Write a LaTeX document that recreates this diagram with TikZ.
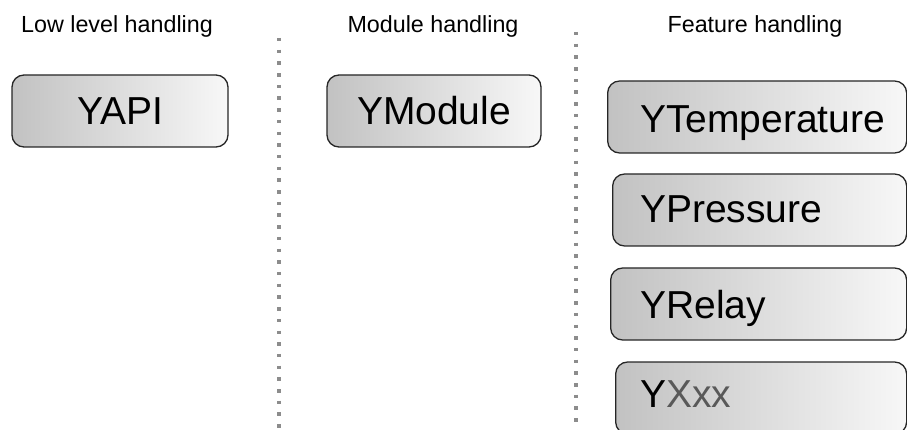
\documentclass[tikz,border=0pt]{standalone}
\usepackage{fontspec}
\setmainfont{Liberation Sans}
\usepackage{tikz}
\usetikzlibrary{positioning}

\begin{document}
\begin{tikzpicture}[
    % styles
    x=1pt, y=-1pt,
    header/.style={font=\fontsize{23.3}{26}\selectfont, inner sep=0pt, anchor=base},
    box/.style={draw=black!85, line width=1.3pt, rounded corners=12pt,
        left color=black!24, right color=black!3,
        minimum height=72pt, inner sep=0pt, font=\fontsize{39}{41}\selectfont},
    boxtext/.style={font=\fontsize{39}{41}\selectfont, inner sep=0pt, anchor=base west},
    separator/.style={draw=black!45, line width=3.5pt, dash pattern=on 3.5pt off 8.2pt}
]

    \useasboundingbox (0,0) rectangle (907,430);

    % --- 1. column headers ---
    \node[header] (low-head) at (117,33) {Low level handling};
    \node[header] (mod-head) at (433,33) {Module handling};
    \node[header] (feat-head) at (755,33) {Feature handling};

    % --- 2. dotted separators ---
    \coordinate (sep1-top) at (279,38);
    \coordinate (sep1-bot) at (279,432);
    \coordinate (sep2-top) at (576,32);
    \coordinate (sep2-bot) at (576,432);
    \draw[separator] (sep1-top) -- (sep1-bot);
    \draw[separator] (sep2-top) -- (sep2-bot);

    % --- 3. low level and module boxes ---
    \node[box, minimum width=216pt] (yapi) at (120,111) {YAPI};
    \node[box, minimum width=214pt] (ymodule) at (434,111) {YModule};

    % --- 4. feature boxes (run off the right edge) ---
    \foreach \name/\x/\y/\b/\txt in {
        temp/607/117/133/YTemperature,
        press/612/210/223/YPressure,
        relay/610/304/318/YRelay,
        xxx/615/398/407/{Y\textcolor{black!65}{Xxx}}} {
        \node[box, anchor=west, minimum width={906-\x}] (\name) at (\x,\y) {};
        \node[boxtext] (\name-t) at (640,\b) {\txt};
    }

\end{tikzpicture}
\end{document}
